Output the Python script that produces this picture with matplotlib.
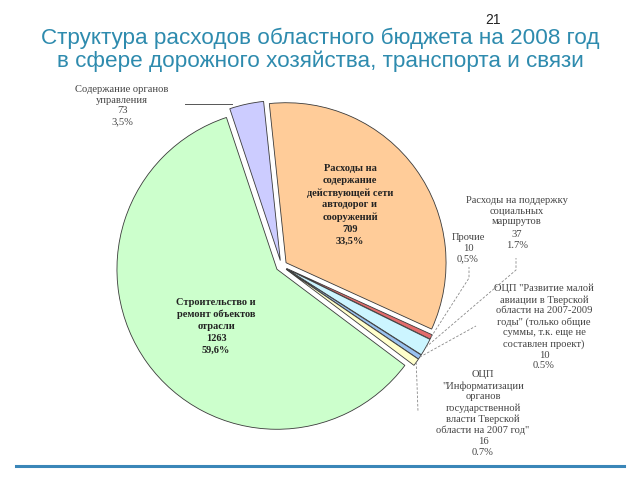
import math
import matplotlib
matplotlib.use('Agg')
import matplotlib.pyplot as plt

# data (clockwise from the top)
labels = [
    'Расходы на\nсодержание\nдействующей сети\nавтодорог и\nсооружений\n709\n33,5%',
    'Прочие\n10\n0,5%',
    'Расходы на поддержку\nсоциальных\nмаршрутов\n37\n1.7%',
    'ОЦП "Развитие малой\nавиации в Тверской\nобласти на 2007-2009\nгоды" (только общие\nсуммы, т.к. еще не\nсоставлен проект)\n10\n0.5%',
    'ОЦП\n"Информатизации\nорганов\nгосударственной\nвласти Тверской\nобласти на 2007 год"\n16\n0.7%',
    'Строительство и\nремонт объектов\nотрасли\n1263\n59,6%',
    'Содержание органов\nуправления\n73\n3,5%',
]
values = [709, 10, 37, 10, 16, 1263, 73]
colors = ['#FFCC99', '#E36C6C', '#CCF5FF', '#99C2F0', '#FFFFCC', '#CCFFCC', '#CCCCFF']

# pixel layout of the pie
CX, CY, R = 281.5, 266.0, 160.0


def px(x, y):
    # pixel position -> data coordinates of the pie axes
    return (x - CX) / R, (CY - y) / R


fig = plt.figure(figsize=(6.4, 4.8), dpi=100)
ax = fig.add_axes([0, 0, 1, 1])
wedges, _ = ax.pie(values, colors=colors, startangle=96, counterclock=False,
                   explode=[0.035] * len(values),
                   wedgeprops=dict(edgecolor='#3a3a3a', linewidth=0.6))
ax.set_xlim(-CX / R, (640 - CX) / R)
ax.set_ylim((CY - 480) / R, CY / R)
ax.set_aspect('auto')
ax.axis('off')


def edge_point(w):
    tm = math.radians((w.theta1 + w.theta2) / 2)
    return w.center[0] + w.r * math.cos(tm), w.center[1] + w.r * math.sin(tm)


serif = 'Liberation Serif'
small = dict(family=serif, fontsize=7.6, color='#444444', ha='center', va='center',
             linespacing=1.24)
big = dict(family=serif, fontsize=7.5, color='#222222', ha='center', va='center',
           fontweight='bold', linespacing=1.4)

# label positions in pixels
fig.text(350 / 640, 1 - 205 / 480, labels[0], **big)
fig.text(216 / 640, 1 - 326 / 480, labels[5], **big)
fig.text(122 / 640, 1 - 105.5 / 480, labels[6], **small)
# the social-routes label is split so it does not cover "Прочие"
words, nums = labels[2].rsplit('\n', 2)[0], '\n'.join(labels[2].split('\n')[-2:])
fig.text(517 / 640, 1 - 211 / 480, words, **small)
fig.text(517 / 640, 1 - 240 / 480, nums, **small)
fig.text(468 / 640, 1 - 248 / 480, labels[1], **small)
fig.text(544 / 640, 1 - 327 / 480, labels[3], **small)
fig.text(483 / 640, 1 - 413.5 / 480, labels[4], **small)

lead = dict(color='#888888', lw=0.6, linestyle=(0, (3, 2)))


def leader(w, pts):
    x0, y0 = edge_point(w)
    xs = [x0] + [px(*p)[0] for p in pts]
    ys = [y0] + [px(*p)[1] for p in pts]
    ax.plot(xs, ys, **lead)


leader(wedges[1], [(469, 278), (469, 267)])
leader(wedges[2], [(516, 270), (516, 258)])
leader(wedges[3], [(476, 326)])
leader(wedges[4], [(418, 412)])
a, b = px(185, 104), px(232, 104)
ax.plot([a[0], b[0]], [a[1], b[1]], color='#555555', lw=0.7)

# title and decoration
title = 'Структура расходов областного бюджета на 2008 год\nв сфере дорожного хозяйства, транспорта и связи'
fig.text(0.5, 1 - 50 / 480, title, family='Liberation Sans', fontsize=16.2,
         color='#2E8BAE', ha='center', va='center', linespacing=1.05)
fig.text(493 / 640, 1 - 20 / 480, '21', family='Liberation Sans', fontsize=10,
         color='#222222', ha='center', va='center')
fig.add_artist(plt.Line2D([16 / 640, 624 / 640], [1 - 466 / 480] * 2,
                          color='#3A86B8', lw=2.2, transform=fig.transFigure))

fig.savefig('out.png', dpi=100)
